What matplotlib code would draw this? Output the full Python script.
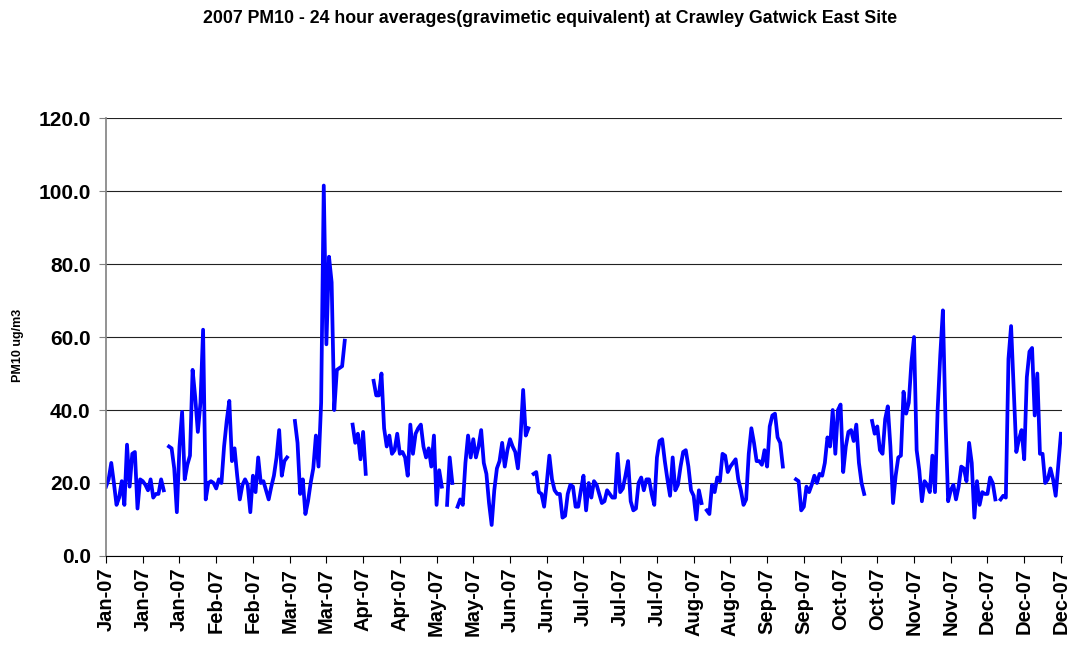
import numpy as np
import pandas as pd
import matplotlib
matplotlib.use("Agg")
import matplotlib.pyplot as plt
import matplotlib.dates as mdates

nan = np.nan

# daily 24h means (ug/m3), gaps = no data
jan = [19, 21, 25.5, 20, 14, 16, 20.5, 14, 30.5, 19,
       28, 28.5, 13, 21, 20.5, 19.5, 18, 21, 16, 17,
       17, 21, 18, nan, 30, 29.5, 24, 12, 30, 39.5, 21]
feb = [25, 27.5, 51, 43.5, 34, 42, 62, 15.5, 20, 20.5,
       20, 18.5, 21, 20, 30, 37, 42.5, 26, 29.5, 22,
       15.5, 19.5, 21, 19.5, 12, 22, 17.5, 27]
mar = [20, 20.5, 18, 15.5, 19, 22, 27, 34.5, 22, 26,
       27, nan, nan, 37, 31, 17, 21, 11.5, 15, 20,
       24, 33, 24.5, 42, 101.5, 58, 82, 75, 40, 51, 51.5]
apr = [52, 59, nan, nan, 36, 31, 33.5, 26.5, 34, 22.5,
       nan, nan, 48, 44, 44, 50, 35, 30, 33, 28,
       29, 33.5, 28, 28.5, 27, 22, 36, 28, 33.5, 35]
may = [36, 30, 27, 29.5, 24.5, 33, 14, 23.5, 19, nan,
       14, 27, 20, nan, 13.5, 15.5, 14, 25.5, 33, 27,
       32, 27, 30, 34.5, 25.5, 22.5, 14.5, 8.5, 18, 24, 26]
jun = [31, 24.5, 29, 32, 30, 28.5, 24, 32.5, 45.5, 33,
       35, nan, 22.5, 23, 17.5, 17, 13.5, 20, 27.5, 21,
       18, 17, 17, 10.5, 11, 17, 19.5, 19, 13.5, 13.5]
jul = [18, 22, 12.5, 20, 16, 20.5, 19.5, 17, 14.5, 15,
       18, 17, 16, 16, 28, 17.5, 18.5, 22, 26, 15,
       12.5, 13, 20, 21.5, 18, 21, 21, 17, 14, 27, 31.5]
aug = [32, 26, 21, 16.5, 27, 18, 19.5, 24.5, 28.5, 29,
       24.5, 18, 16.5, 10, 18, 14.5, nan, 12.5, 11.5, 19.5,
       17.5, 21.5, 20.5, 28, 27.5, 23, 24.5, 25.5, 26.5, 21, 18]
sep = [14, 15.5, 28, 35, 31, 26, 26, 25, 29, 24.5,
       35.5, 38.5, 39, 32.5, 31, 24.5, nan, nan, nan, nan,
       21, 20.5, 12.5, 13.5, 19, 17.5, 19.5, 22, 20, 22.5]
oct_ = [22, 25.5, 32.5, 30, 40, 28, 40, 41.5, 23, 30,
        34, 34.5, 31.5, 36, 25.5, 20, 17, nan, nan, 37,
        33.5, 35.5, 29, 28, 37.5, 41, 30, 14.5, 22, 27, 27.5]
nov = [45, 39, 42, 53, 60, 29, 23.5, 15, 20.5, 19.5,
       17.5, 27.5, 17.5, 40, 55, 67.3, 37, 15, 18, 19.5,
       15.5, 19, 24.5, 24, 20.5, 31, 25.5, 10.5, 20.5, 14]
dec = [17.5, 17, 17, 21.5, 20, 15.5, nan, 15.5, 16.5, 16,
       54, 63, 46, 28.5, 32, 34.5, 26.5, 49, 56, 57,
       38.5, 50, 28, 28, 20, 21, 24, 21, 16.5, 25, 33.5]

pm10 = jan + feb + mar + apr + may + jun + jul + aug + sep + oct_ + nov + dec
dates = pd.date_range("2007-01-01", periods=len(pm10), freq="D")
tick_dates = pd.date_range("2007-01-01", "2007-12-31", freq="14D")

plt.rcParams['font.family'] = ['Liberation Sans', 'DejaVu Sans']

fig = plt.figure(figsize=(10.72, 6.45), dpi=100)
ax = fig.add_axes([0.0989, 0.138, 0.892, 0.679])

ax.plot(dates, pm10, color='#0000ff', linewidth=2.7, solid_joinstyle='round')

ax.set_ylim(0, 120)
ax.set_yticks(np.arange(0, 121, 20))
ax.yaxis.set_major_formatter(matplotlib.ticker.FormatStrFormatter('%.1f'))
ax.set_xlim(dates[0], dates[-1] + pd.Timedelta(days=0.5))
ax.set_xticks(tick_dates)
ax.xaxis.set_major_formatter(mdates.DateFormatter('%b-%y'))

ax.grid(axis='y', color='#222222', linewidth=0.8)
ax.set_axisbelow(True)
for s in ['top', 'right']:
    ax.spines[s].set_visible(False)
ax.spines['left'].set_color('#808080')
ax.spines['left'].set_linewidth(1.2)
ax.spines['bottom'].set_color('#000000')

ax.tick_params(axis='y', labelsize=15, length=5, color='#808080', pad=6)
ax.tick_params(axis='x', labelsize=14.5, length=5, rotation=90)
for lbl in ax.get_xticklabels() + ax.get_yticklabels():
    lbl.set_fontweight('bold')

fig.text(0.513, 0.971, "2007 PM10 - 24 hour averages(gravimetic equivalent) at Crawley Gatwick East Site",
         ha='center', va='center', fontsize=12.8, fontweight='bold')
fig.text(0.017, 0.464, "PM10 ug/m3", rotation=90, ha='center', va='center',
         fontsize=9, fontweight='bold')

fig.savefig("out.png", dpi=100)
